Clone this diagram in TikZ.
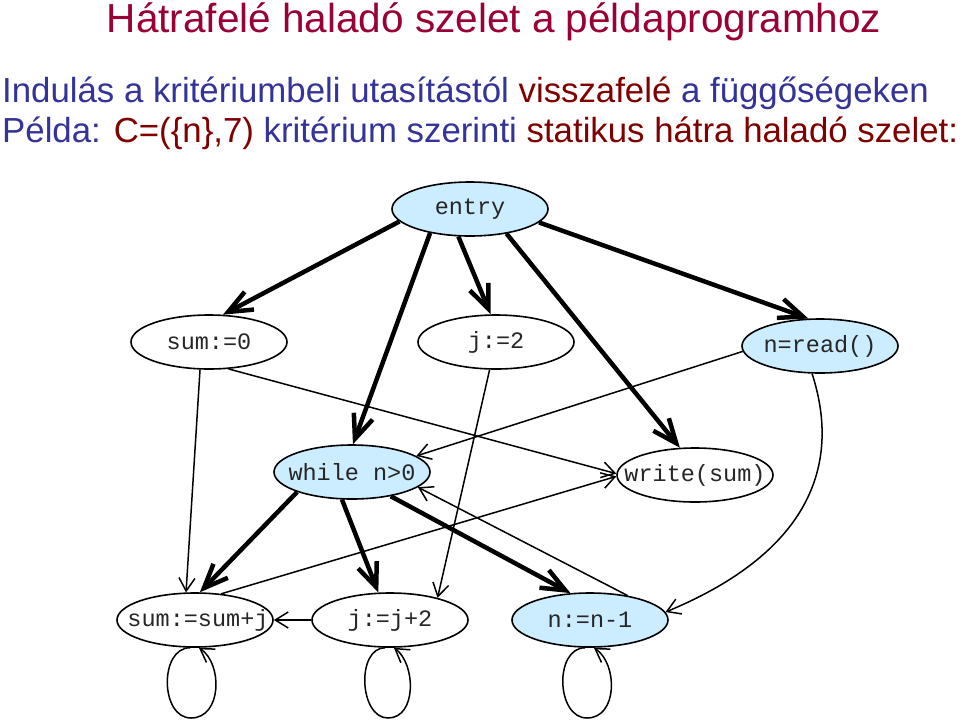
\documentclass[tikz,border=0pt]{standalone}
\usepackage{fontspec}
\setmainfont{Liberation Sans}
\newfontfamily\codefont{Liberation Mono}
\usetikzlibrary{arrows.meta,shapes.geometric}
\definecolor{titlecol}{RGB}{153,0,51}
\definecolor{bluetxt}{RGB}{51,51,153}
\definecolor{redtxt}{RGB}{128,0,0}
\definecolor{nodeblue}{RGB}{204,236,255}
\newcommand{\zw}[1]{\makebox[0pt][c]{#1}}
\begin{document}
\begin{tikzpicture}[x=1pt,y=-1pt,
  stmt/.style={ellipse, draw=black, line width=1.6pt, minimum width=156pt, minimum height=54pt, inner sep=0pt, font=\codefont\fontsize{23.5}{27}\selectfont, text=black!85},
  hl/.style={stmt, fill=nodeblue},
  thickdep/.style={line width=4.5pt, -{Straight Barb[length=24pt,width=20pt]}},
  thindep/.style={line width=1.5pt, -{Straight Barb[length=13pt,width=16pt]}},
  txt/.style={inner sep=0pt, font=\fontsize{34.8}{40}\selectfont, text=bluetxt, anchor=base west}
]
\useasboundingbox[fill=white] (0,0) rectangle (960,721);

\node[anchor=base, inner sep=0pt, text=titlecol, font=\fontsize{40.5}{48}\selectfont] (title) at (494,32) {Hátrafelé haladó szelet a példaprogramhoz};
\node[txt] (line1) at (2,102) {Indulás a kritériumbeli utasítástól \textcolor{redtxt}{visszafelé} a függőségeken};
\node[txt] (line2) at (2,142) {Példa: \textcolor{redtxt}{C=(\{n\},7)} kritérium szerinti \textcolor{redtxt}{statikus hátra haladó szelet:}};

\node[hl] (entry) at (470,209) {\zw{entry}};
\node[stmt] (sum0) at (209,342) {\zw{sum:=0}};
\node[stmt] (j2) at (496,342) {\zw{j:=2}};
\node[hl] (nread) at (820,346) {\zw{n=read()}};
\node[hl] (wh) at (352,472) {\zw{while n>0}};
\node[stmt] (write) at (695,475) {\zw{write(sum)}};
\node[stmt] (sumj) at (195,620) {\zw{\hspace{6pt}sum:=sum+j}};
\node[stmt] (jj) at (390,620) {\zw{j:=j+2}};
\node[hl] (nn) at (590,620) {\zw{n:=n-1}};

\draw[thickdep] (entry.190) -- (sum0.63);
\draw[thickdep] (entry.211) -- (wh.88);
\draw[thickdep] (entry.247) -- (j2.101);
\draw[thickdep] (entry.326) -- (write.119);
\draw[thickdep] (entry.349) -- (nread.113);
\draw[thickdep] (wh.200) -- (sumj.80);
\draw[thickdep] (wh.250) -- (jj.113);
\draw[thickdep] (wh.328) -- (nn.126);

\draw[thindep] (sum0.252) -- (sumj.108);
\draw[thindep] (sum0.306) -- (write.179);
\draw[thindep] (j2.257) -- (jj.25);
\draw[thindep] (nread.184) -- (wh.14);
\draw[thindep] (sumj.45) -- (write.181);
\draw[thindep] (jj.west) -- (sumj.east);
\draw[thindep] (nn.33) -- (wh.347);
\draw[thindep] (nread.254) .. controls (840,460) and (815,550) .. (nn.6);

\coordinate (sumjlow) at (191,718);
\coordinate (jjlow) at (388,718);
\coordinate (nnlow) at (587,718);
\draw[thindep] (sumj.-100) .. controls +(-31,0) and +(-31,0) .. (sumjlow) .. controls +(31,0) and +(24,16) .. (sumj.-82);
\draw[thindep] (jj.-100) .. controls +(-29,0) and +(-29,0) .. (jjlow) .. controls +(29,0) and +(22,16) .. (jj.-82);
\draw[thindep] (nn.-100) .. controls +(-31,0) and +(-31,0) .. (nnlow) .. controls +(31,0) and +(24,16) .. (nn.-82);
\end{tikzpicture}
\end{document}
